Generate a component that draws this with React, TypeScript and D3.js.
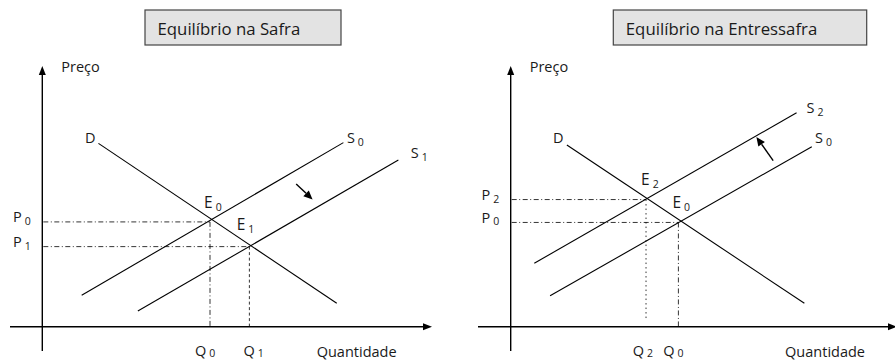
import React from "react";
import * as d3 from "d3";

// ---------- DATA ----------
const panelTitles = ["Equilíbrio na Safra", "Equilíbrio na Entressafra"];
const axisLabels = { price: "Preço", quantity: "Quantidade" };

// Curves: label, subscript, [q start, q end], [p start, p end]  (0–100 units)
const safraCurves = [
  { name: "D", sub: "", q: [14.4, 75.5], p: [70.5, 9.0] },
  { name: "S", sub: "0", q: [10.1, 77.2], p: [12.1, 70.8] },
  { name: "S", sub: "1", q: [24.5, 91.3], p: [6.0, 64.1] },
];
const entressafraCurves = [
  { name: "D", sub: "", q: [14.4, 75.3], p: [69.9, 9.0] },
  { name: "S", sub: "2", q: [6.05, 73.3], p: [24.4, 82.3] },
  { name: "S", sub: "0", q: [10.1, 77.2], p: [11.9, 69.2] },
];

// Equilibria: subscript, Q, P
const safraEquilibria = [
  { sub: "0", q: 43.0, p: 40.3 },
  { sub: "1", q: 53.1, p: 30.8 },
];
const entressafraEquilibria = [
  { sub: "2", q: 34.7, p: 48.9 },
  { sub: "0", q: 43.0, p: 40.1 },
];

// Shift arrows: [q, p] tail -> head
const safraShift = { from: [65.1, 54.9], to: [69.3, 48.9] };
const entressafraShift = { from: [67.3, 63.9], to: [63.0, 73.0] };

// ---------- LAYOUT ----------
const W = 895;
const H = 360;
const FONT = "'Open Sans', 'Noto Sans', sans-serif";

const panels = [
  {
    title: panelTitles[0],
    box: { x: 145, y: 10, w: 196, h: 35 },
    ox: 42.3,
    xStart: 10,
    xTip: 432,
    curves: safraCurves,
    curveLabelOff: [
      { dx: -3, dy: 0, anchor: "end" },
      { dx: 3.5, dy: 0.5, anchor: "start" },
      { dx: 12.4, dy: -1.7, anchor: "start" },
    ],
    eq: safraEquilibria,
    eqLabelOff: [
      { dx: -6, dy: -13.6 },
      { dx: -12.7, dy: -16.6 },
    ],
    qLabelOff: [-15, -6],
    qDash: ["5,2.5,1,2.5", "3,2.5"],
    qEnd: [0, 0],
    shift: safraShift,
  },
  {
    title: panelTitles[1],
    box: { x: 613.3, y: 10, w: 253.4, h: 35 },
    ox: 510.7,
    xStart: 478,
    xTip: 897,
    curves: entressafraCurves,
    curveLabelOff: [
      { dx: -3.4, dy: -1.7, anchor: "end" },
      { dx: 10, dy: 0.6, anchor: "start" },
      { dx: 3.3, dy: -3.4, anchor: "start" },
    ],
    eq: entressafraEquilibria,
    eqLabelOff: [
      { dx: -5, dy: -14.5 },
      { dx: -6, dy: -14 },
    ],
    qLabelOff: [-13.3, -15.2],
    qDash: ["1.5,3", "5,2.5,1,2.5"],
    qEnd: [3.3, 0],
    shift: entressafraShift,
  },
];

function SubLabel({ x, y, main, sub, anchor = "start", size = 14.5, subDy = 2.5 }: any) {
  return (
    <text x={x} y={y} fontFamily={FONT} fontSize={size} fill="#1a1a1a" textAnchor={anchor}>
      {main}
      {sub ? (
        <tspan dx={3} dy={subDy} fontSize={10.5}>
          {sub}
        </tspan>
      ) : null}
    </text>
  );
}

function Panel({ cfg }: any) {
  const x = d3.scaleLinear().domain([0, 100]).range([cfg.ox, cfg.ox + 390]);
  const y = d3.scaleLinear().domain([0, 100]).range([326.7, 66.7]);
  const y0 = y(0);
  const line = d3
    .line<number[]>()
    .x((d) => x(d[0]))
    .y((d) => y(d[1]));

  // shift arrow
  const tx = x(cfg.shift.from[0]);
  const ty = y(cfg.shift.from[1]);
  const hx = x(cfg.shift.to[0]);
  const hy = y(cfg.shift.to[1]);
  const len = Math.hypot(hx - tx, hy - ty);
  const ux = (hx - tx) / len;
  const uy = (hy - ty) / len;
  const hl = 9;
  const hw = 4;
  const bx = hx - ux * hl;
  const by = hy - uy * hl;
  const head = `${hx},${hy} ${bx - uy * hw},${by + ux * hw} ${bx + uy * hw},${by - ux * hw}`;

  return (
    <g>
      {/* title box */}
      <rect
        x={cfg.box.x}
        y={cfg.box.y}
        width={cfg.box.w}
        height={cfg.box.h}
        fill="#e3e3e3"
        stroke="#444"
        strokeWidth={1.2}
      />
      <text x={cfg.box.x + 12.5} y={cfg.box.y + 24.5} fontFamily={FONT} fontSize={16.8} fill="#1a1a1a">
        {cfg.title}
      </text>

      {/* axes */}
      <line x1={cfg.ox} y1={351} x2={cfg.ox} y2={74} stroke="#000" strokeWidth={1.4} />
      <polygon points={`${cfg.ox},66 ${cfg.ox - 3.5},75 ${cfg.ox + 3.5},75`} fill="#000" />
      <line x1={cfg.xStart} y1={y0} x2={cfg.xTip - 8} y2={y0} stroke="#000" strokeWidth={1.4} />
      <polygon points={`${cfg.xTip},${y0} ${cfg.xTip - 9},${y0 - 3.5} ${cfg.xTip - 9},${y0 + 3.5}`} fill="#000" />
      <text x={cfg.ox + 19} y={72} fontFamily={FONT} fontSize={14.5} fill="#1a1a1a">
        {axisLabels.price}
      </text>
      <text x={cfg.ox + 274.4} y={356.5} fontFamily={FONT} fontSize={14.5} fill="#1a1a1a">
        {axisLabels.quantity}
      </text>

      {/* reference lines */}
      {cfg.eq.map((e: any, i: number) => (
        <g key={"ref" + i}>
          <line
            x1={cfg.ox + 1}
            y1={y(e.p)}
            x2={x(e.q)}
            y2={y(e.p)}
            stroke="#000"
            strokeWidth={0.8}
            strokeDasharray="5,2.5,1,2.5"
          />
          <line
            x1={x(e.q)}
            y1={y(e.p)}
            x2={x(e.q)}
            y2={y(cfg.qEnd[i])}
            stroke="#000"
            strokeWidth={0.8}
            strokeDasharray={cfg.qDash[i]}
          />
          <SubLabel x={cfg.ox - 29.3} y={y(e.p) + 0.5} main="P" sub={e.sub} />
          <SubLabel x={x(e.q) + cfg.qLabelOff[i]} y={355.5} main="Q" sub={e.sub} subDy={1} />
          <SubLabel
            x={x(e.q) + cfg.eqLabelOff[i].dx}
            y={y(e.p) + cfg.eqLabelOff[i].dy}
            main="E"
            sub={e.sub}
            size={15.5}
          />
        </g>
      ))}

      {/* curves */}
      {cfg.curves.map((c: any, i: number) => {
        const pts = [
          [c.q[0], c.p[0]],
          [c.q[1], c.p[1]],
        ];
        const lab = cfg.curveLabelOff[i];
        const anchorPt = c.name === "D" ? pts[0] : pts[1];
        return (
          <g key={"c" + i}>
            <path d={line(pts) || ""} fill="none" stroke="#000" strokeWidth={1.1} />
            <SubLabel
              x={x(anchorPt[0]) + lab.dx}
              y={y(anchorPt[1]) + lab.dy}
              main={c.name}
              sub={c.sub}
              anchor={lab.anchor}
            />
          </g>
        );
      })}

      {/* shift arrow */}
      <line x1={tx} y1={ty} x2={bx} y2={by} stroke="#000" strokeWidth={1.4} />
      <polygon points={head} fill="#000" />
    </g>
  );
}

export default function App() {
  return (
    <svg
      width={W}
      height={H}
      viewBox={`0 0 ${W} ${H}`}
      style={{ position: "absolute", left: 0, top: 0, background: "#fff" }}
    >
      <rect x={0} y={0} width={W} height={H} fill="#fff" />
      {panels.map((p, i) => (
        <Panel key={i} cfg={p} />
      ))}
    </svg>
  );
}
